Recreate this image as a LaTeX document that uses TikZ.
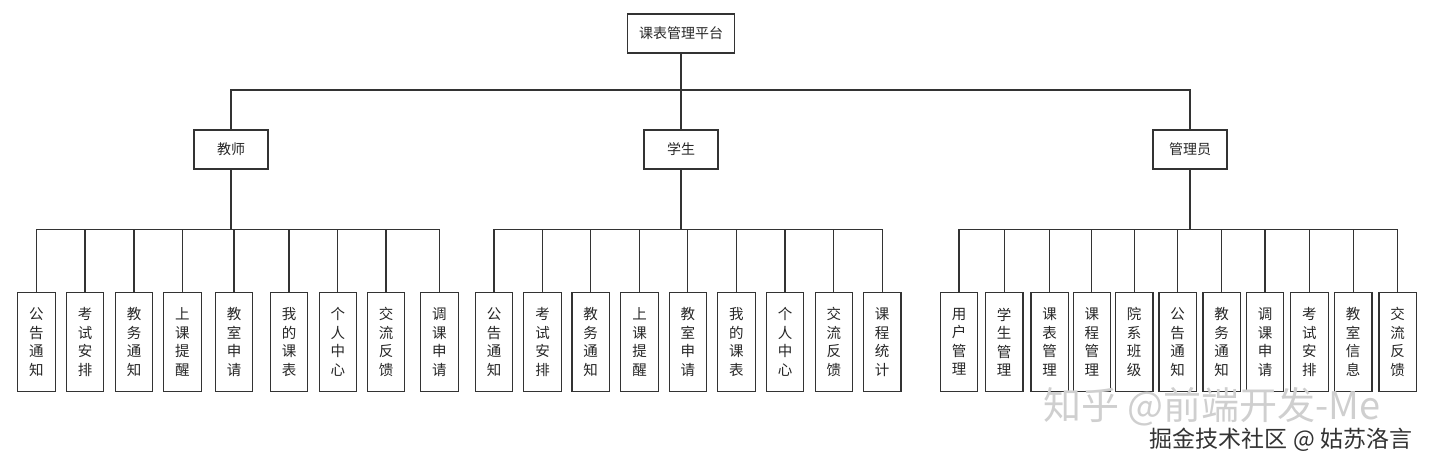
\documentclass[tikz,border=0pt]{standalone}
\usepackage{fontspec}
\setmainfont{Noto Sans CJK SC}
\usepackage{tikz}
\usepackage{xcolor}
\definecolor{linea}{HTML}{333333}
\definecolor{filigrana}{HTML}{CFCFCF}

\begin{document}
\begin{tikzpicture}[x = 1pt, y = -1pt,
    scatola/.style = {draw = linea, line width = 1.1pt, minimum width = 74pt, minimum height = 39pt, inner sep = 0pt, text = black!85, font = \fontsize{14}{16}\selectfont},
    voce/.style = {draw = linea, line width = 1.1pt, minimum width = 37.5pt, minimum height = 98.5pt, inner sep = 0pt, align = center, text = black!85, font = \fontsize{14.5}{18.5}\selectfont},
    ramo/.style = {draw = linea, line width = 1.2pt}]
    \useasboundingbox (0,0) rectangle (1440,468);
    % Radice e ruoli
    \node[scatola, minimum width = 107pt] (radice) at (681,33.5){课表管理平台};
    \node[scatola] (docente) at (231,149.5){教师};
    \node[scatola] (studente) at (681,149.5){学生};
    \node[scatola] (admin) at (1190,149.5){管理员};
    % Punti di snodo
    \coordinate (snodo) at (681,90);
    \coordinate (bd) at (231,229.5);
    \coordinate (bs) at (681,229.5);
    \coordinate (ba) at (1190,229.5);
    % Rami superiori
    \draw[ramo] (radice.south) -- (snodo);
    \draw[ramo] (docente.north) |- (snodo);
    \draw[ramo] (studente.north) -- (snodo);
    \draw[ramo] (admin.north) |- (snodo);
    \draw[ramo, line width = 1.8pt] (docente.south) -- (bd);
    \draw[ramo, line width = 1.8pt] (studente.south) -- (bs);
    \draw[ramo, line width = 1.8pt] (admin.south) -- (ba);
    % Funzioni del docente
    \foreach \x/\t [count = \i] in {36.3/公\\告\\通\\知, 85/考\\试\\安\\排, 134/教\\务\\通\\知, 182.3/上\\课\\提\\醒, 234/教\\室\\申\\请, 289/我\\的\\课\\表, 337.8/个\\人\\中\\心, 386/交\\流\\反\\馈, 439.3/调\\课\\申\\请}{
        \node[voce] (d\i) at (\x,342){\t};
        \draw[ramo] (d\i.north) |- (bd);
    }
    % Funzioni dello studente
    \foreach \x/\t [count = \i] in {494/公\\告\\通\\知, 542.5/考\\试\\安\\排, 590.7/教\\务\\通\\知, 639.5/上\\课\\提\\醒, 687.8/教\\室\\申\\请, 736.3/我\\的\\课\\表, 785/个\\人\\中\\心, 833.8/交\\流\\反\\馈, 882.2/课\\程\\统\\计}{
        \node[voce] (s\i) at (\x,342){\t};
        \draw[ramo] (s\i.north) |- (bs);
    }
    % Funzioni dell'amministratore
    \foreach \x/\t [count = \i] in {959/用\\户\\管\\理, 1004.2/学\\生\\管\\理, 1049.7/课\\表\\管\\理, 1091.8/课\\程\\管\\理, 1134.2/院\\系\\班\\级, 1177.7/公\\告\\通\\知, 1221.7/教\\务\\通\\知, 1265/调\\课\\申\\请, 1309.3/考\\试\\安\\排, 1353.2/教\\室\\信\\息, 1397.7/交\\流\\反\\馈}{
        \node[voce] (a\i) at (\x,342){\t};
        \draw[ramo] (a\i.north) |- (ba);
    }
    % Filigrane
    \node[text = filigrana, inner sep = 0pt, font = \fontsize{38}{38}\selectfont] (zhihu) at (1212,407){知乎 @前端开发-Me};
    \node[text = linea, inner sep = 0pt, font = \fontsize{23}{23}\selectfont] (juejin) at (1281,439.5){掘金技术社区 @ 姑苏洛言};
\end{tikzpicture}
\end{document}
